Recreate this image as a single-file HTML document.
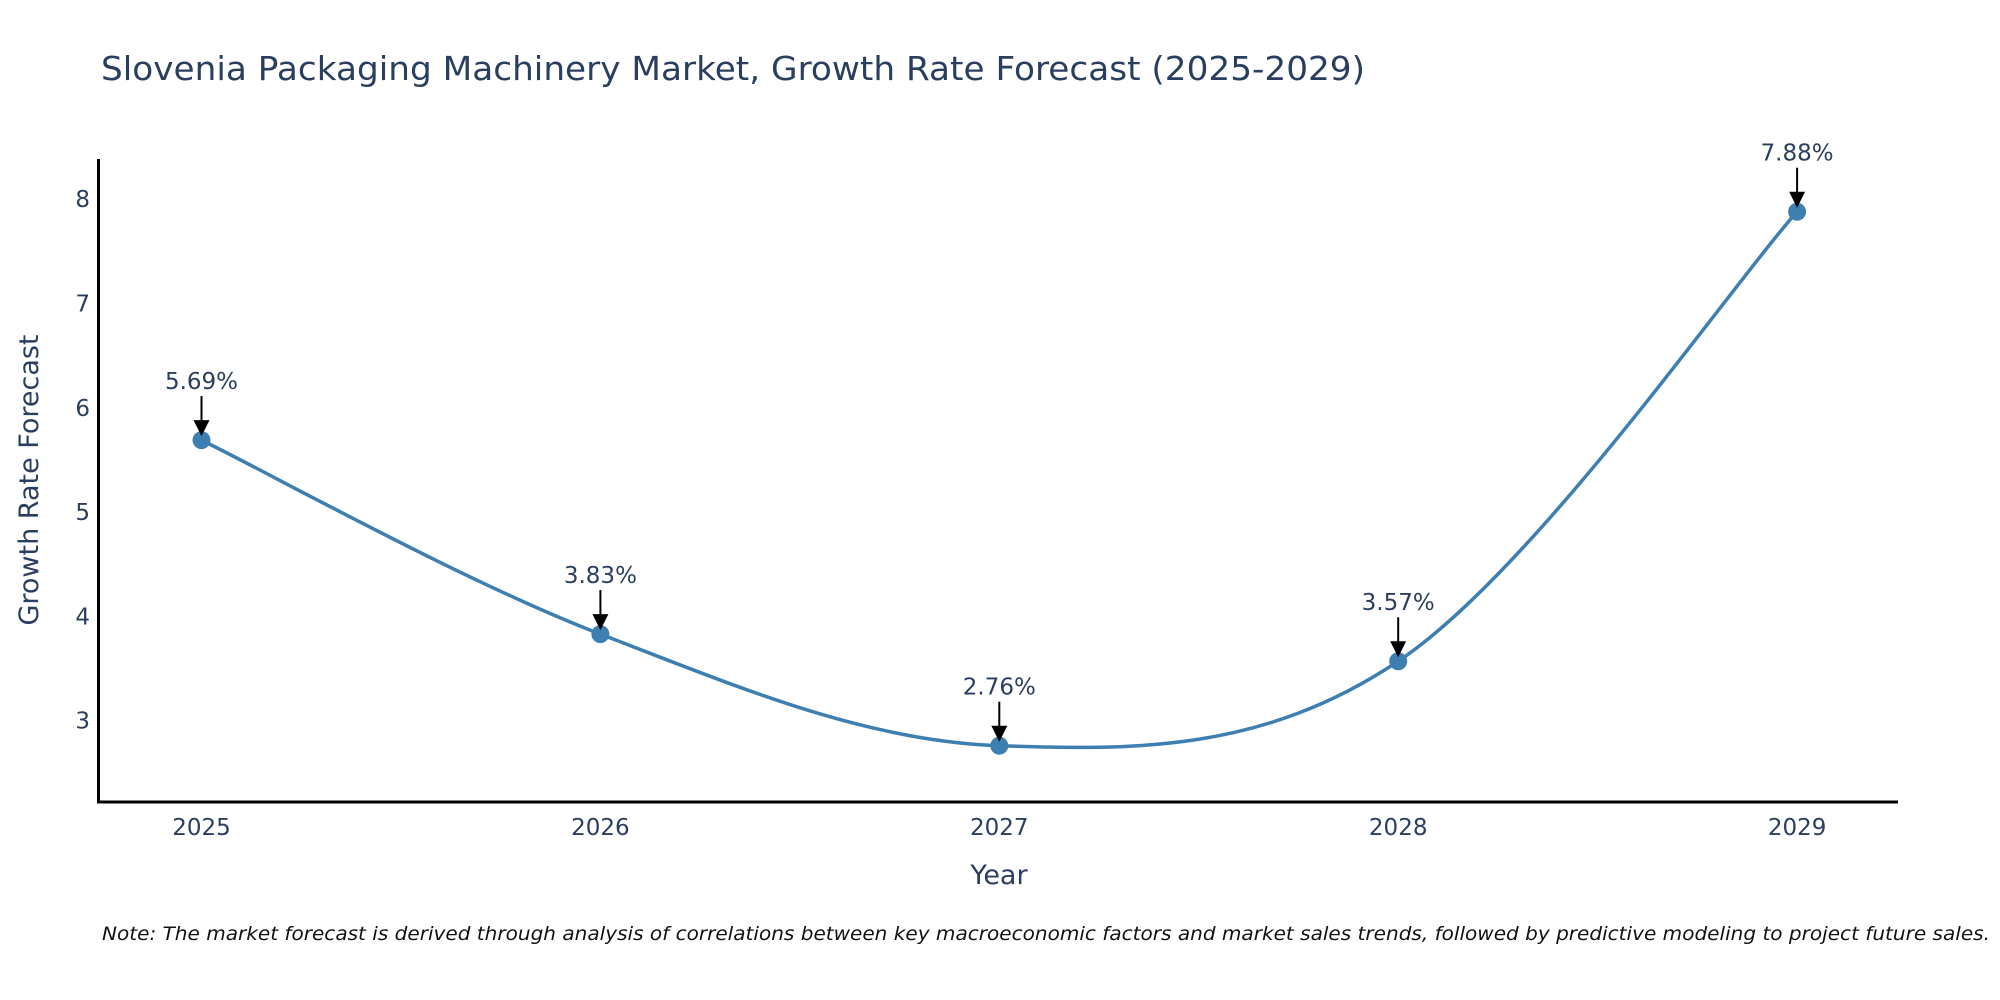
<!DOCTYPE html>
<html><head><meta charset="utf-8"><style>
html,body{margin:0;padding:0;background:#fff;}
svg{display:block;font-family:"DejaVu Sans","Liberation Sans",sans-serif;}
</style></head><body>
<svg id="chart" width="2000" height="1000" viewBox="0 0 2000 1000" xmlns="http://www.w3.org/2000/svg">
<text x="101" y="80" font-size="33" fill="#2a3f5f" textLength="1264" lengthAdjust="spacingAndGlyphs">Slovenia Packaging Machinery Market, Growth Rate Forecast (2025-2029)</text>
<g id="plot"></g>
<text x="999" y="884" font-size="27" fill="#2a3f5f" text-anchor="middle">Year</text>
<text transform="translate(38,480) rotate(-90)" font-size="27" fill="#2a3f5f" text-anchor="middle">Growth Rate Forecast</text>
<text x="102" y="940" font-size="19" font-style="italic" fill="#111" textLength="1888" lengthAdjust="spacingAndGlyphs">Note: The market forecast is derived through analysis of correlations between key macroeconomic factors and market sales trends, followed by predictive modeling to project future sales.</text>
</svg>
<script>
const years = ["2025","2026","2027","2028","2029"];
const growth = [5.69, 3.83, 2.76, 3.57, 7.88];
const labels = ["5.69%","3.83%","2.76%","3.57%","7.88%"];
const yTicks = [3,4,5,6,7,8];

const NS="http://www.w3.org/2000/svg";
const g=document.getElementById('plot');
function xS(i){return 201.5+i*398.9;}
function yS(v){return 720.7-(v-3)*104.3;}
function mk(t,a){const e=document.createElementNS(NS,t);for(const k in a)e.setAttribute(k,a[k]);g.appendChild(e);return e;}

yTicks.forEach(t=>{
  const e=mk('text',{x:90,y:yS(t)+8,'font-size':23,fill:'#2a3f5f','text-anchor':'end'});
  e.textContent=t;
  
  
});
years.forEach((y,i)=>{
  const e=mk('text',{x:xS(i),y:835,'font-size':23,fill:'#2a3f5f','text-anchor':'middle'});
  e.textContent=y;
  
  
});
const ax=mk('path',{d:'M98.5,159 L98.5,802 L1898,802',stroke:'#000','stroke-width':3,fill:'none'});



const pts=growth.map((v,i)=>[xS(i),yS(v)]);
let d='M'+pts[0][0]+','+pts[0][1];
const tt=0.17;
for(let i=0;i<pts.length-1;i++){
  const p0=pts[Math.max(0,i-1)],p1=pts[i],p2=pts[i+1],p3=pts[Math.min(pts.length-1,i+2)];
  const c1=[p1[0]+(p2[0]-p0[0])*tt,p1[1]+(p2[1]-p0[1])*tt];
  const c2=[p2[0]-(p3[0]-p1[0])*tt,p2[1]-(p3[1]-p1[1])*tt];
  d+=' C'+c1+' '+c2+' '+p2;
}
const line=mk('path',{d:d,stroke:'#3d7fb1','stroke-width':3.5,fill:'none'});



pts.forEach((p,i)=>{
  const c=mk('circle',{cx:p[0],cy:p[1],r:9,fill:'#3d7fb1'});
  
  
  const a=mk('line',{x1:p[0],y1:p[1]-44,x2:p[0],y2:p[1]-18,stroke:'#000','stroke-width':2});
  
  
  const h=mk('polygon',{points:(p[0]-8)+','+(p[1]-20)+' '+(p[0]+8)+','+(p[1]-20)+' '+p[0]+','+(p[1]-4),fill:'#000'});
  
  
  const t=mk('text',{x:p[0],y:p[1]-51,'font-size':23,fill:'#2a3f5f','text-anchor':'middle'});
  t.textContent=labels[i];
  
  
});
</script>
</body></html>
